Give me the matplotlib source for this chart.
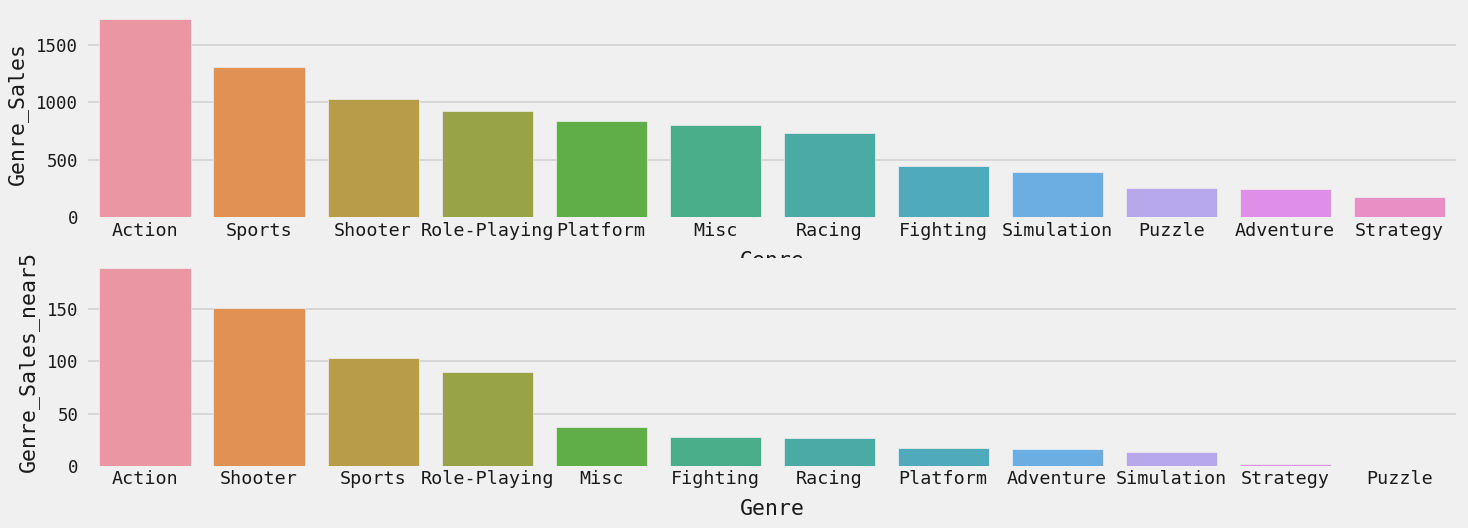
import matplotlib
matplotlib.use('Agg')
import matplotlib.pyplot as plt
import seaborn as sns

# total sales per genre
genres_all = ['Action', 'Sports', 'Shooter', 'Role-Playing', 'Platform', 'Misc',
              'Racing', 'Fighting', 'Simulation', 'Puzzle', 'Adventure', 'Strategy']
sales_all = [1722, 1311, 1029, 921, 838, 800, 730, 448, 398, 256, 245, 176]

# sales per genre, last five years
genres_near5 = ['Action', 'Shooter', 'Sports', 'Role-Playing', 'Misc', 'Fighting',
                'Racing', 'Platform', 'Adventure', 'Simulation', 'Strategy', 'Puzzle']
sales_near5 = [189, 150.4, 102.6, 89.2, 37, 28, 26.5, 17.5, 16, 13, 2, 0]

bg = '#f0f0f0'
plt.rcParams['font.family'] = ['DejaVu Sans Mono']
plt.rcParams['figure.facecolor'] = bg
plt.rcParams['axes.facecolor'] = bg

# old seaborn default for many categories: husl, l=.7, desaturated to .75
colors = [sns.desaturate(c, 0.75) for c in sns.husl_palette(12, l=.7)]

fig, axes = plt.subplots(2, 1, figsize=(14.68, 5.28), dpi=100)
fig.subplots_adjust(left=0.06, right=0.992, bottom=0.1174, top=0.9824, hspace=0.194)

panels = [
    (axes[0], genres_all, sales_all, 'Genre_Sales', [0, 500, 1000, 1500]),
    (axes[1], genres_near5, sales_near5, 'Genre_Sales_near5', [0, 50, 100, 150]),
]

for ax, names, vals, ylab, yt in panels:
    x = range(len(names))
    ax.bar(x, vals, width=0.8, color=colors, edgecolor=bg, linewidth=0.5)
    ax.set_xlim(-0.5, len(names) - 0.5)
    ax.set_ylim(0, max(vals) * 1.05)
    ax.set_xticks(list(x))
    ax.set_xticklabels(names, fontsize=13.2, color='#1a1a1a')
    ax.set_yticks(yt)
    ax.set_yticklabels([str(v) for v in yt], fontsize=12.5, color='#1a1a1a')
    ax.tick_params(axis='both', length=0)
    ax.tick_params(axis='x', pad=3)
    ax.tick_params(axis='y', pad=7)
    ax.yaxis.grid(True, color='#d0d0d0', linewidth=1.1)
    ax.xaxis.grid(False)
    ax.set_axisbelow(True)
    ax.get_ygridlines()[0].set_visible(False)
    for s in ax.spines.values():
        s.set_visible(False)
    ax.set_xlabel('Genre', fontsize=15.5, color='#1a1a1a', labelpad=8)
    ax.set_ylabel(ylab, fontsize=15.5, color='#1a1a1a', labelpad=6)

fig.savefig('out.png', dpi=100, facecolor=bg)
